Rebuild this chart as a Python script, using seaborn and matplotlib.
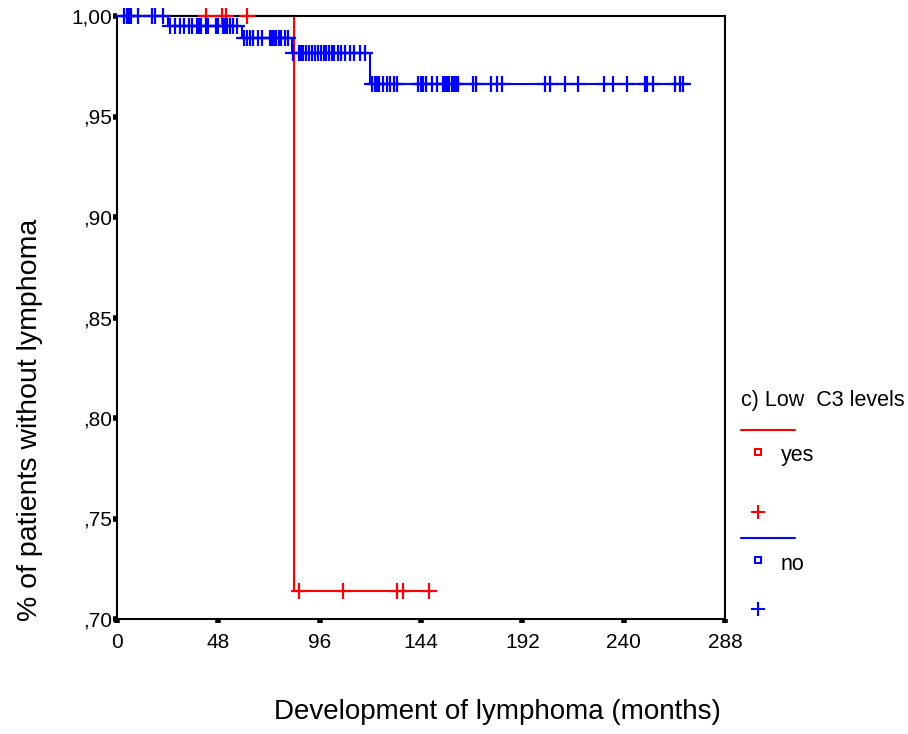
import numpy as np
import pandas as pd
import matplotlib.pyplot as plt
from matplotlib.lines import Line2D
import seaborn as sns

# Kaplan-Meier steps (months, share without lymphoma)
yes_times = [0, 84, 148]
yes_surv = [1.0, 0.714, 0.714]
no_times = [0, 24, 59, 83, 120, 268]
no_surv = [1.0, 0.995, 0.989, 0.9816, 0.9662, 0.9662]

# censored cases (months)
yes_censored = [42, 49.5, 51.5, 61.5, 86, 107, 132.5, 135.5, 148]
no_censored = [3.5, 4.5, 5.5, 6.5, 10, 16.5, 18, 22,
               25, 27.5, 30, 31.5, 34, 35.5, 38, 39, 40, 42, 43, 47, 48,
               50, 51, 52, 53.5, 55, 57,
               60, 61.5, 63, 64.5, 67, 68.5, 72.5, 73.5, 74.5, 75.5, 76.5,
               77.5, 79.5, 81,
               83.5, 86, 87, 88, 89.5, 91, 92.5, 94, 95, 96.5, 98, 99, 100.5,
               102, 103, 104.5, 106, 108, 110.5, 112.5, 115, 117.5,
               121, 122, 123, 124, 126, 128, 129.5, 131, 132.5, 142.5, 144,
               145, 146.5, 149, 151.5, 154.5, 155.5, 156.5, 157.5, 158.5,
               159.5, 160.5, 161.5, 168.5, 170, 177, 180, 182.5, 202.5, 205,
               212, 218.5, 230.5, 235, 241.5, 250, 251, 254, 264.5, 266.5, 268]

groups = ['yes', 'no']
colors = {'yes': '#ff0000', 'no': '#0000ff'}
x_ticks = [0, 48, 96, 144, 192, 240, 288]
y_ticks = [0.70, 0.75, 0.80, 0.85, 0.90, 0.95, 1.00]
y_tick_labels = [',70', ',75', ',80', ',85', ',90', ',95', '1,00']

steps = {'yes': (yes_times, yes_surv), 'no': (no_times, no_surv)}
censored = {'yes': yes_censored, 'no': no_censored}

sns.set_theme(style='white')
plt.rcParams['font.family'] = ['Liberation Sans', 'DejaVu Sans']
plt.rcParams['text.color'] = 'black'
plt.rcParams['axes.labelcolor'] = 'black'

fig = plt.figure(figsize=(9.08, 7.34), dpi=100)
ax = fig.add_axes([117 / 908, 1 - 619 / 734, 608 / 908, 603 / 734])

for g in groups:
    t, s = steps[g]
    line_df = pd.DataFrame({'time': t, 'surv': s})
    sns.lineplot(data=line_df, x='time', y='surv', color=colors[g],
                 drawstyle='steps-post', estimator=None, sort=False,
                 linewidth=1.5, clip_on=False, ax=ax)
    ct = np.array(censored[g])
    idx = np.searchsorted(t, ct, side='right') - 1
    cens_df = pd.DataFrame({'time': ct, 'surv': np.array(s)[idx]})
    sns.scatterplot(data=cens_df, x='time', y='surv', color=colors[g],
                    marker='+', s=120, linewidth=1.6, clip_on=False,
                    legend=False, ax=ax, zorder=3)

ax.set_xlim(0, 288)
ax.set_ylim(0.70, 1.00)
ax.set_xticks(x_ticks)
ax.set_xticklabels([str(v) for v in x_ticks])
ax.set_yticks(y_ticks)
ax.set_yticklabels(y_tick_labels)
ax.tick_params(direction='out', length=3, width=4, labelsize=15,
               colors='black', bottom=True, left=True)
ax.tick_params(axis='x', pad=7)
ax.tick_params(axis='y', pad=0.5)
for sp in ax.spines.values():
    sp.set_linewidth(1.5)
    sp.set_color('black')

ax.set_xlabel('Development of lymphoma (months)', fontsize=20)
ax.set_ylabel('% of patients without lymphoma', fontsize=20.5)
ax.xaxis.set_label_coords(0.625, -0.132)
ax.yaxis.set_label_coords(-0.122, 0.33)


# legend in SPSS style, drawn in figure pixels
def fx(px):
    return px / 908


def fy(py):
    return 1 - py / 734


fig.text(fx(741), fy(400), 'c) Low  C3 levels', fontsize=15.5, va='center', ha='left')
legend_rows = [('yes', 430, 452, 456, 512), ('no', 538, 560, 564, 609)]
for g, line_y, sq_y, txt_y, plus_y in legend_rows:
    fig.add_artist(Line2D([fx(741), fx(795)], [fy(line_y), fy(line_y)],
                          color=colors[g], linewidth=1.5))
    fig.add_artist(Line2D([fx(758)], [fy(sq_y)], marker='s', markersize=5,
                          markerfacecolor='white', markeredgecolor=colors[g],
                          markeredgewidth=1.5, linestyle='none'))
    fig.text(fx(781), fy(txt_y), g, fontsize=15.5, va='center', ha='left')
    fig.add_artist(Line2D([fx(758)], [fy(plus_y)], marker='+', markersize=10,
                          markeredgecolor=colors[g], markeredgewidth=1.5,
                          linestyle='none'))

fig.savefig('out.png', dpi=100)
